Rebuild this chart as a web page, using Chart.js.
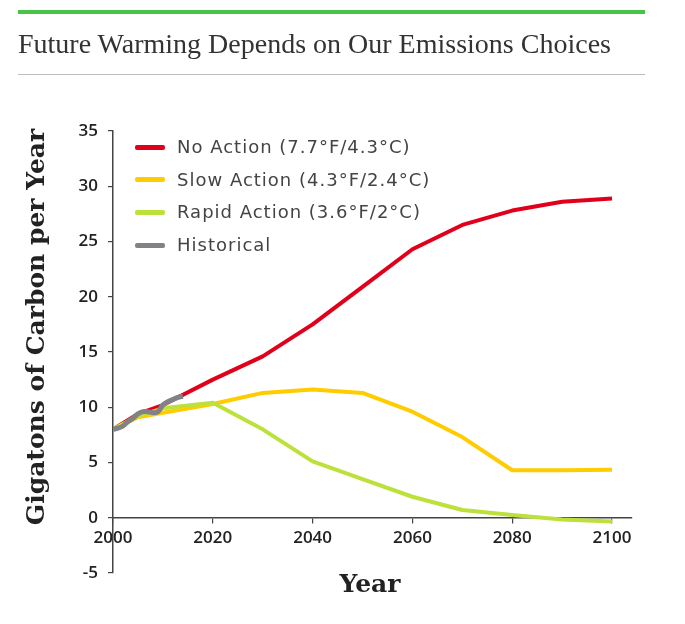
<!DOCTYPE html>
<html>
<head>
  <title>Future Warming Depends on Our Emissions Choices</title>
  <style>
    body { margin: 0; background: #fff; }
    .wrap { position: relative; width: 685px; height: 624px; overflow: hidden; }
    canvas { position: absolute; left: 0; top: 0; }
    .topbar { position: absolute; left: 18px; top: 10px; width: 627px; height: 4px; background: #46c446; }
    .title { position: absolute; left: 18px; top: 29px; font-family: "Liberation Serif", serif; font-size: 28px; line-height: 30px; color: #333; white-space: nowrap; }
    .rule { position: absolute; left: 18px; top: 74px; width: 627px; height: 1px; background: #bdbdbd; }
    .ytitle { position: absolute; left: -174px; top: 312px; width: 420px; height: 30px; line-height: 30px; text-align: center;
      font-family: "DejaVu Serif", serif; font-weight: bold; font-size: 25px; color: #222; transform: rotate(-90deg); white-space: nowrap; }
    .xtitle { position: absolute; left: 270px; top: 569px; width: 200px; line-height: 30px; text-align: center;
      font-family: "DejaVu Serif", serif; font-weight: bold; font-size: 25px; color: #222; }
    #legend { position: absolute; left: 135px; top: 131px; }
    .item { position: absolute; left: 0; height: 32px; line-height: 32px; display: flex; align-items: center; white-space: nowrap;
      font-family: "DejaVu Sans", sans-serif; font-size: 18px; letter-spacing: 1px; color: #444; }
    .swatch { width: 30px; height: 5px; border-radius: 2px; margin-right: 12px; }
  </style>
  <script src="https://cdn.jsdelivr.net/npm/chart.js"></script>
</head>
<body>
  <div class="wrap">
    <canvas id="warmingChart" width="685" height="624"></canvas>
    <div class="topbar"></div>
    <div class="title">Future Warming Depends on Our Emissions Choices</div>
    <div class="rule"></div>
    <div class="ytitle">Gigatons of Carbon per Year</div>
    <div class="xtitle">Year</div>
    <div id="legend"></div>
  </div>

  <script>
    // values
    const scenarioYears = [2000, 2005, 2010, 2020, 2030, 2040, 2050, 2060, 2070, 2080, 2090, 2100];
    const noAction    = [8.0, 9.4, 10.2, 12.5, 14.6, 17.5, 20.9, 24.3, 26.5, 27.8, 28.6, 28.9];
    const slowAction  = [8.0, 9.1, 9.5, 10.3, 11.3, 11.6, 11.3, 9.6, 7.3, 4.3, 4.3, 4.35];
    const rapidAction = [8.0, 9.2, 9.9, 10.4, 8.0, 5.1, 3.5, 1.9, 0.7, 0.25, -0.15, -0.35];

    const historicalYears = [2000, 2001, 2002, 2003, 2004, 2005, 2006, 2007, 2008, 2009, 2010, 2011, 2012, 2013, 2014];
    const historical = [8.0, 8.1, 8.3, 8.7, 9.0, 9.4, 9.6, 9.6, 9.5, 9.6, 10.2, 10.5, 10.7, 10.9, 11.0];

    const seriesLabels = ['No Action (7.7°F/4.3°C)', 'Slow Action (4.3°F/2.4°C)', 'Rapid Action (3.6°F/2°C)', 'Historical'];
    const seriesColors = ['#e1001b', '#ffcc00', '#bde13b', '#828286'];

    const xTicks = [2000, 2020, 2040, 2060, 2080, 2100];
    const yTicks = [-5, 0, 5, 10, 15, 20, 25, 30, 35];

    function points(xs, ys) {
      return xs.map((x, i) => ({ x: x, y: ys[i] }));
    }

    const seriesData = [
      points(scenarioYears, noAction),
      points(scenarioYears, slowAction),
      points(scenarioYears, rapidAction),
      points(historicalYears, historical)
    ];

    const datasets = seriesData.map((d, i) => ({
      label: seriesLabels[i],
      data: d,
      borderColor: seriesColors[i],
      backgroundColor: seriesColors[i],
      borderWidth: i === 3 ? 5 : 4,
      pointRadius: 0,
      tension: i === 3 ? 0.3 : 0,
      borderCapStyle: 'butt',
      borderJoinStyle: 'round',
      order: 3 - i
    }));

    const tickFont = { family: '"Open Sans", "DejaVu Sans", sans-serif', size: 17, weight: '600' };

    const ctx = document.getElementById('warmingChart').getContext('2d');
    const chart = new Chart(ctx, {
      type: 'line',
      data: { datasets: datasets },
      options: {
        responsive: false,
        animation: false,
        layout: { padding: { top: 131, right: 53, bottom: 51, left: 0 } },
        plugins: { legend: { display: false }, tooltip: { enabled: false } },
        scales: {
          x: {
            type: 'linear',
            position: { y: 0 },
            min: 2000,
            max: 2104,
            afterBuildTicks: (axis) => { axis.ticks = xTicks.map(v => ({ value: v })); },
            ticks: {
              padding: 5,
              maxRotation: 0,
              color: '#222',
              font: tickFont,
              callback: (v) => String(v)
            },
            grid: { drawOnChartArea: false, drawTicks: true, tickLength: 5, color: '#444', lineWidth: 1.2 },
            border: { display: true, color: '#444', width: 1.5 }
          },
          y: {
            min: -5,
            max: 35,
            afterBuildTicks: (axis) => { axis.ticks = yTicks.map(v => ({ value: v })); },
            afterFit: (axis) => { axis.width = 113; },
            ticks: {
              padding: 10,
              color: '#222',
              font: tickFont
            },
            grid: { drawOnChartArea: false, drawTicks: true, tickLength: 5, color: '#444', lineWidth: 1.2 },
            border: { display: true, color: '#444', width: 1.5 }
          }
        }
      }
    });

    // legend drawn as html inside the plot area
    const legend = document.getElementById('legend');
    chart.data.datasets.forEach((ds, i) => {
      const item = document.createElement('div');
      item.className = 'item';
      item.style.top = (i * 32.7) + 'px';
      const sw = document.createElement('span');
      sw.className = 'swatch';
      sw.style.background = ds.borderColor;
      const txt = document.createElement('span');
      txt.textContent = ds.label;
      item.appendChild(sw);
      item.appendChild(txt);
      legend.appendChild(item);
    });
  </script>
</body>
</html>
